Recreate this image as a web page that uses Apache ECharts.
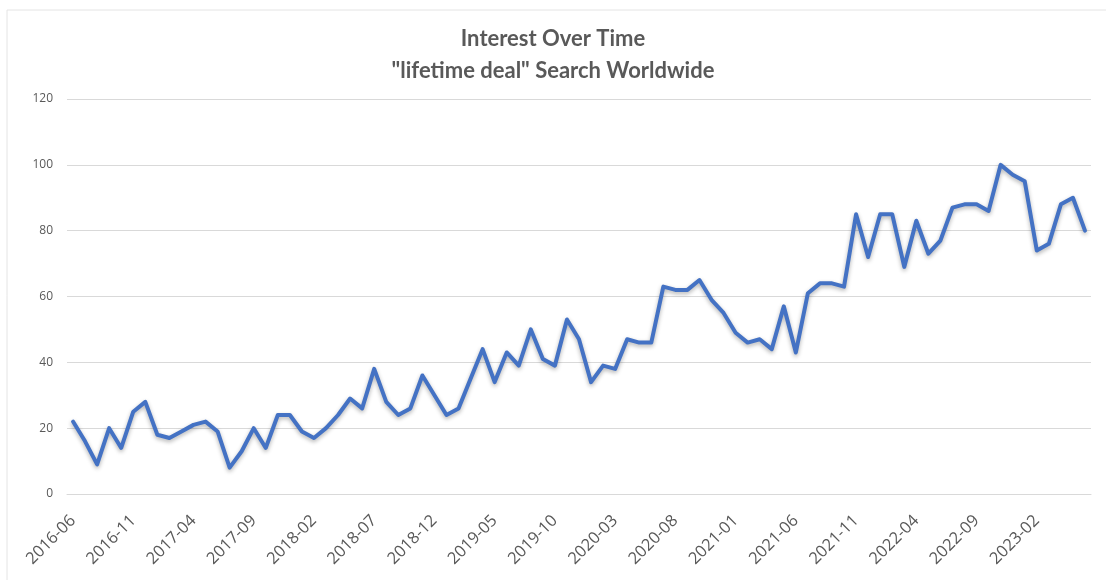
<!DOCTYPE html>
<html>
<head>
<meta charset="utf-8">
<title>Interest Over Time</title>
<script src="https://cdn.jsdelivr.net/npm/echarts@6/dist/echarts.min.js"></script>
<style>
  html, body { margin: 0; padding: 0; background: #fff; }
  #chart { width: 1106px; height: 580px; }
</style>
</head>
<body>
<div id="chart"></div>
<script>
  // 月份 2016-06 ~ 2023-06
  var months = [
    '2016-06','2016-07','2016-08','2016-09','2016-10','2016-11','2016-12',
    '2017-01','2017-02','2017-03','2017-04','2017-05','2017-06','2017-07','2017-08','2017-09','2017-10','2017-11','2017-12',
    '2018-01','2018-02','2018-03','2018-04','2018-05','2018-06','2018-07','2018-08','2018-09','2018-10','2018-11','2018-12',
    '2019-01','2019-02','2019-03','2019-04','2019-05','2019-06','2019-07','2019-08','2019-09','2019-10','2019-11','2019-12',
    '2020-01','2020-02','2020-03','2020-04','2020-05','2020-06','2020-07','2020-08','2020-09','2020-10','2020-11','2020-12',
    '2021-01','2021-02','2021-03','2021-04','2021-05','2021-06','2021-07','2021-08','2021-09','2021-10','2021-11','2021-12',
    '2022-01','2022-02','2022-03','2022-04','2022-05','2022-06','2022-07','2022-08','2022-09','2022-10','2022-11','2022-12',
    '2023-01','2023-02','2023-03','2023-04','2023-05','2023-06'
  ];

  // 搜索热度
  var interest = [
    22, 16, 9, 20, 14, 25, 28,
    18, 17, 19, 21, 22, 19, 8, 13, 20, 14, 24, 24,
    19, 17, 20, 24, 29, 26, 38, 28, 24, 26, 36, 30,
    24, 26, 35, 44, 34, 43, 39, 50, 41, 39, 53, 47,
    34, 39, 38, 47, 46, 46, 63, 62, 62, 65, 59, 55,
    49, 46, 47, 44, 57, 43, 61, 64, 64, 63, 85, 72,
    85, 85, 69, 83, 73, 77, 87, 88, 88, 86, 100, 97,
    95, 74, 76, 88, 90, 80
  ];

  var yTicks = { min: 0, max: 120, interval: 20 };

  var labelColor = '#595959';
  var gridColor = '#d9d9d9';

  var myChart = echarts.init(document.getElementById('chart'));
  myChart.setOption({
    animation: false,
    //标题
    title: {
      text: 'Interest Over Time\n"lifetime deal" Search Worldwide',
      left: 'center',
      top: 18,
      padding: [5, 0, 5, 12], // 标题稍微偏右
      textStyle: {
        color: labelColor,
        fontFamily: 'Lato',
        fontWeight: 'bold',
        fontSize: 22,
        lineHeight: 32
      }
    },
    //外边框
    graphic: [{
      type: 'rect',
      shape: { x: 7, y: 10, width: 1300, height: 800 },
      style: { fill: 'none', stroke: '#e4e4e4', lineWidth: 1 },
      silent: true
    }],
    grid: {
      top: 99,
      left: 67,
      right: 15,
      bottom: 86,
      containLabel: false
    },
    xAxis: {
      type: 'category',
      data: months,
      boundaryGap: true,
      axisLine: { lineStyle: { color: gridColor, width: 1 } },
      axisTick: { show: false },
      axisLabel: {
        interval: 4,
        rotate: 45,
        margin: 24,
        color: labelColor,
        fontFamily: 'Open Sans',
        fontSize: 16.5
      },
      splitLine: { show: false }
    },
    yAxis: {
      type: 'value',
      min: yTicks.min,
      max: yTicks.max,
      interval: yTicks.interval,
      axisLine: { show: false },
      axisTick: { show: false },
      axisLabel: {
        margin: 14,
        color: labelColor,
        fontFamily: 'Open Sans',
        fontSize: 12
      },
      splitLine: { lineStyle: { color: gridColor, width: 1 } }
    },
    series: [{
      type: 'line',
      data: interest,
      symbol: 'none',
      smooth: false,
      lineStyle: {
        color: '#4472c4',
        width: 4,
        join: 'round',
        cap: 'round',
        shadowColor: 'rgba(0,0,0,0.3)',
        shadowBlur: 4,
        shadowOffsetY: 2
      }
    }]
  });
</script>
</body>
</html>
